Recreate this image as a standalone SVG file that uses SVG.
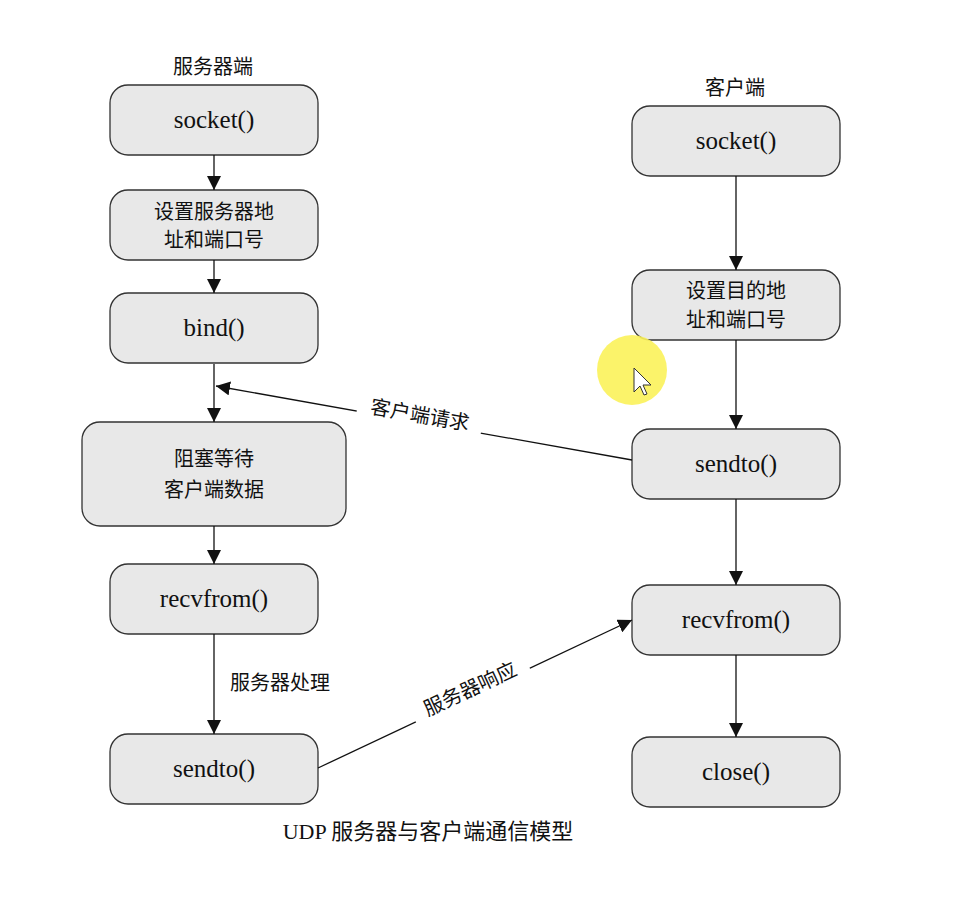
<svg xmlns="http://www.w3.org/2000/svg" width="964" height="911" viewBox="0 0 964 911">
<style>
.n{fill:#e8e8e8;stroke:#333;stroke-width:1.3}
text{font-family:"Liberation Serif","Noto Sans CJK SC",serif;fill:#111;text-anchor:middle}
.t{font-size:25px}
.c{font-size:20px}
.l{font-size:20px}
.e{stroke:#111;stroke-width:1.3;fill:none;marker-end:url(#a)}
</style>
<defs><marker id="a" viewBox="0 0 10 10" refX="10" refY="5" markerWidth="14" markerHeight="14" markerUnits="userSpaceOnUse" orient="auto"><path d="M0,0L10,5L0,10z" fill="#111"/></marker></defs>
<rect width="964" height="911" fill="#fff"/>
<text class="l" x="213" y="74">服务器端</text>
<text class="l" x="735" y="95">客户端</text>
<g id="s_socket"><rect class="n" x="110" y="85" width="208" height="70" rx="18"/><text class="t" x="214" y="128">socket()</text></g>
<g id="s_addr"><rect class="n" x="110" y="190" width="208" height="70" rx="18"/><text class="c" x="214" y="219">设置服务器地</text><text class="c" x="214" y="247">址和端口号</text></g>
<g id="s_bind"><rect class="n" x="110" y="293" width="208" height="70" rx="18"/><text class="t" x="214" y="336">bind()</text></g>
<g id="s_wait"><rect class="n" x="82" y="422" width="264" height="104" rx="18"/><text class="c" x="214" y="466">阻塞等待</text><text class="c" x="214" y="497">客户端数据</text></g>
<g id="s_recv"><rect class="n" x="110" y="564" width="208" height="70" rx="18"/><text class="t" x="214" y="607">recvfrom()</text></g>
<g id="s_send"><rect class="n" x="110" y="734" width="208" height="70" rx="18"/><text class="t" x="214" y="777">sendto()</text></g>
<g id="c_socket"><rect class="n" x="632" y="106" width="208" height="70" rx="18"/><text class="t" x="736" y="149">socket()</text></g>
<g id="c_addr"><rect class="n" x="632" y="270" width="208" height="70" rx="18"/><text class="c" x="736" y="298">设置目的地</text><text class="c" x="736" y="327">址和端口号</text></g>
<g id="c_send"><rect class="n" x="632" y="429" width="208" height="70" rx="18"/><text class="t" x="736" y="472">sendto()</text></g>
<g id="c_recv"><rect class="n" x="632" y="585" width="208" height="70" rx="18"/><text class="t" x="736" y="628">recvfrom()</text></g>
<g id="c_close"><rect class="n" x="632" y="737" width="208" height="70" rx="18"/><text class="t" x="736" y="780">close()</text></g>
<g id="edges">
<path class="e" d="M214,155V190"/>
<path class="e" d="M214,260V293"/>
<path class="e" d="M214,364V422"/>
<path class="e" d="M214,526V564"/>
<path class="e" d="M214,634V734"/>
<path class="e" d="M736,176V270"/>
<path class="e" d="M736,340V429"/>
<path class="e" d="M736,499V585"/>
<path class="e" d="M736,655V737"/>
<path class="e" d="M632,460L216,386"/>
<path class="e" d="M318,768L632,620"/>
<text class="l" x="280" y="690">服务器处理</text>
<rect x="357" y="402" width="126" height="26" fill="#fff" transform="rotate(10 420 415)"/>
<text class="l" x="420" y="422" transform="rotate(10 420 415)">客户端请求</text>
<rect x="407" y="676" width="126" height="26" fill="#fff" transform="rotate(-25 470 689)"/>
<text class="l" x="470" y="696" transform="rotate(-25 470 689)">服务器响应</text>
</g>
<text class="l" x="428" y="839" style="font-size:22px">UDP 服务器与客户端通信模型</text>
<circle cx="632" cy="370" r="35" fill="#fbf25a" opacity="0.9"/>
<path d="M634,368V392L640,386L644,395L647,394L643,385L651,385Z" fill="#fff" stroke="#333" stroke-width="1"/>
</svg>
